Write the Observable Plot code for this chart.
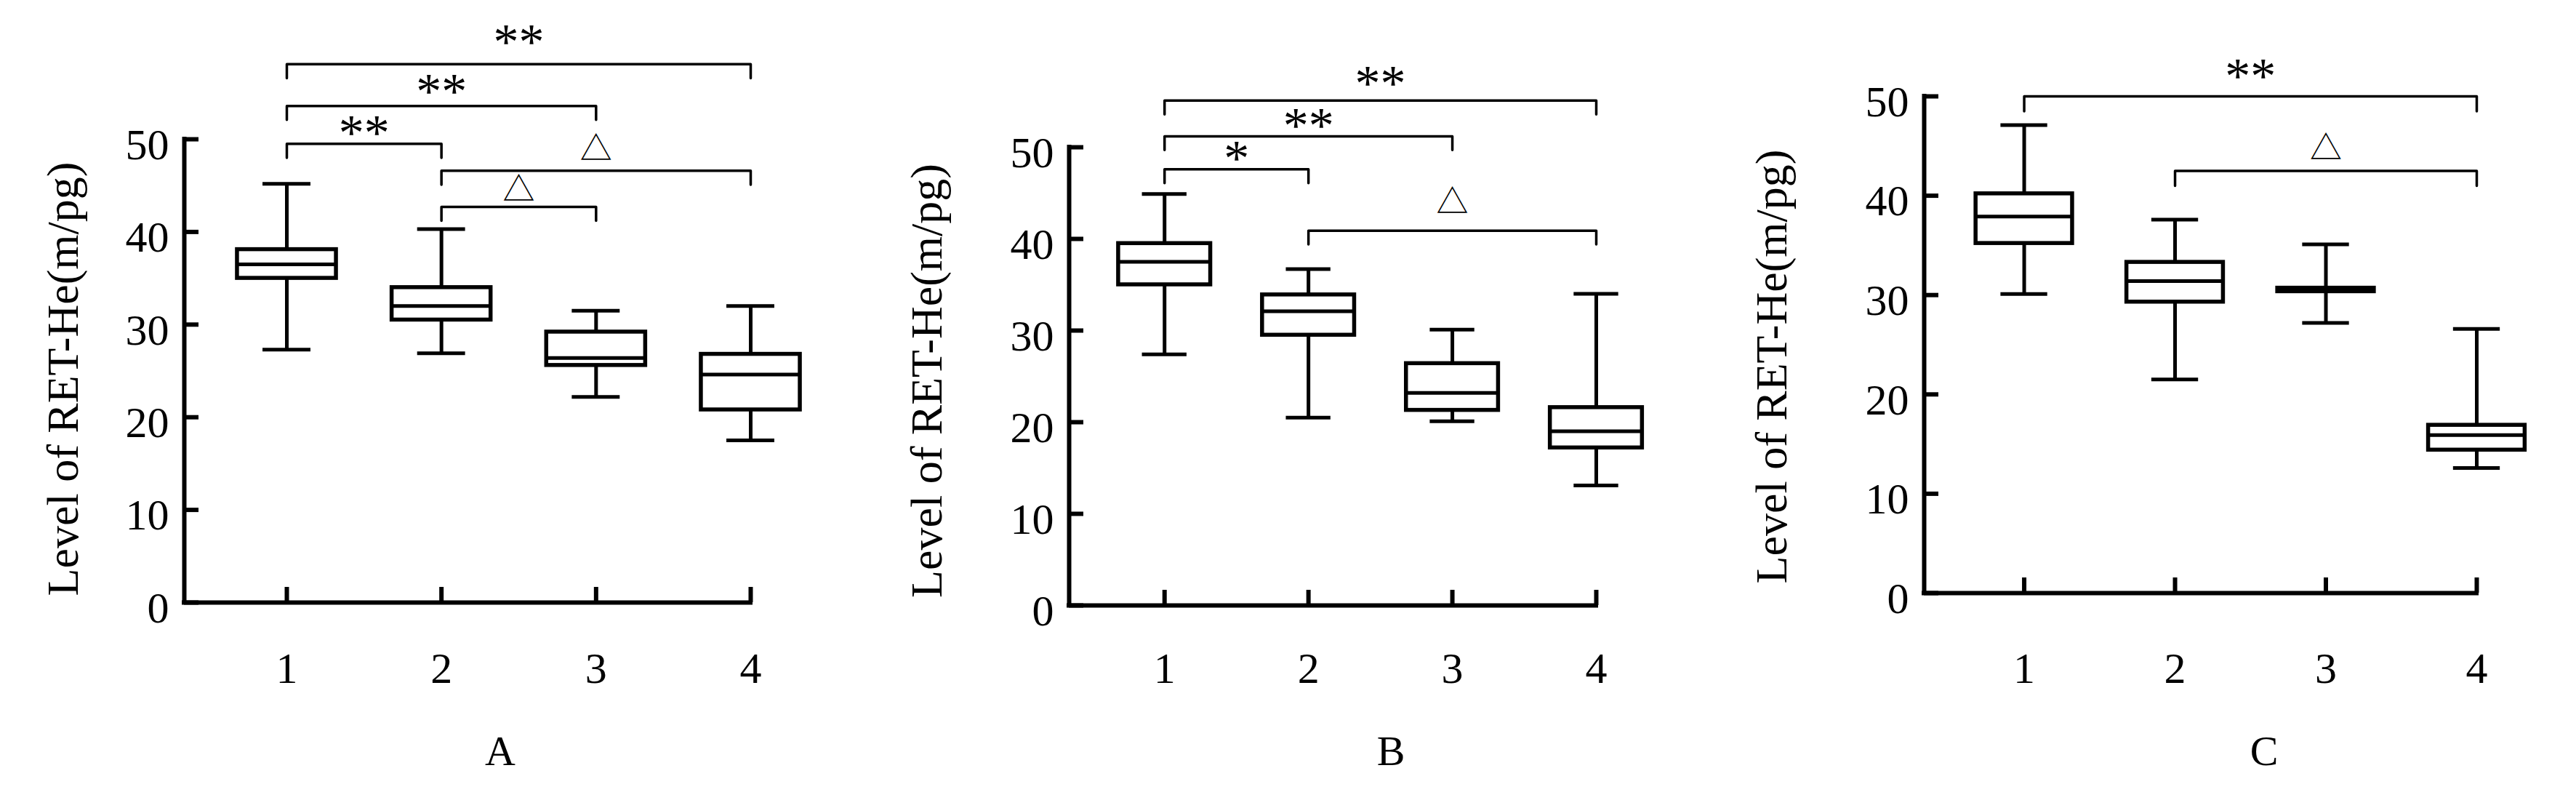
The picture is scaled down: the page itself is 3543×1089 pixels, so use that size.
<!DOCTYPE html>
<html><head><meta charset="utf-8">
<script src="https://cdn.jsdelivr.net/npm/d3@7"></script>
<script src="https://cdn.jsdelivr.net/npm/@observablehq/plot@0.6"></script>
<style>
html,body{margin:0;padding:0;background:#fff;}
#wrap{position:relative;width:3543px;height:1089px;overflow:hidden;background:#fff;}
.panel{position:absolute;top:0;}
.cap{position:absolute;font-family:"Liberation Serif","Times New Roman",serif;font-size:58px;color:#000;transform:translate(-50%,-50%);line-height:1;}
</style></head><body><div id="wrap"></div>
<script>
// categories
const groups = [1, 2, 3, 4];
const yTicks = [0, 10, 20, 30, 40, 50];
const yTitle = "Level of RET-He(m/pg)";
const panelLetters = ["A", "B", "C"];

// Panel A box statistics
const aLow  = [27.3, 26.9, 22.2, 17.5];
const aQ1   = [35.0, 30.5, 25.6, 20.8];
const aMed  = [36.5, 32.0, 26.4, 24.6];
const aQ3   = [38.1, 34.0, 29.2, 26.8];
const aHigh = [45.2, 40.3, 31.5, 32.0];
// Panel A significance brackets
const aBrFrom  = [1, 1, 1, 2, 2];
const aBrTo    = [4, 3, 2, 4, 3];
const aBrLevel = [58.1, 53.6, 49.5, 46.6, 42.7];
const aBrText  = ["**", "**", "**", "△", "△"];
const aBrTextY = [61.1, 55.8, 51.3, 48.9, 44.5];

// Panel B box statistics
const bLow  = [27.4, 20.5, 20.1, 13.1];
const bQ1   = [35.0, 29.5, 21.3, 17.2];
const bMed  = [37.5, 32.1, 23.2, 19.0];
const bQ3   = [39.5, 33.9, 26.4, 21.6];
const bHigh = [44.9, 36.7, 30.1, 34.0];
const bBrFrom  = [1, 1, 1, 2];
const bBrTo    = [4, 3, 2, 4];
const bBrLevel = [55.1, 51.2, 47.6, 40.9];
const bBrText  = ["**", "**", "*", "△"];
const bBrTextY = [57.6, 53.0, 49.4, 43.9];

// Panel C box statistics
const cLow  = [30.1, 21.5, 27.2, 12.6];
const cQ1   = [35.2, 29.3, 30.35, 14.4];
const cMed  = [37.9, 31.4, 30.5, 15.9];
const cQ3   = [40.2, 33.3, 30.7, 16.9];
const cHigh = [47.1, 37.6, 35.1, 26.6];
const cBrFrom  = [1, 2];
const cBrTo    = [4, 4];
const cBrLevel = [50.0, 42.5];
const cBrText  = ["**", "△"];
const cBrTextY = [52.6, 44.7];

const SERIF = "'Liberation Serif','Times New Roman',serif";
const X0 = 0.337, HALF = 0.32, CAP = 0.155, LEG = 1.5;

function panel(s, L) {
  const rows = groups.map((g, i) => ({g, low: s.low[i], q1: s.q1[i], med: s.med[i], q3: s.q3[i], high: s.high[i]}));
  const br = s.from.map((f, i) => ({i, from: f, to: s.to[i], level: s.level[i], text: s.text[i], ty: s.ty[i]}));
  const brPts = br.flatMap(b => [
    {i: b.i, x: b.from, y: b.level - LEG}, {i: b.i, x: b.from, y: b.level},
    {i: b.i, x: b.to, y: b.level}, {i: b.i, x: b.to, y: b.level - LEG}]);
  const stars = br.filter(b => b.text !== "△");
  const tris = br.filter(b => b.text === "△");
  const chart = Plot.plot({
    width: 1181, height: 1089,
    marginLeft: L.ml, marginRight: L.mr, marginTop: L.mt, marginBottom: L.mb,
    x: {type: "linear", domain: [X0, 4]},
    y: {type: "linear", domain: [0, 50]},
    style: {fontFamily: SERIF, fontSize: "60px", color: "#000", background: "transparent", overflow: "visible"},
    marks: [
      Plot.ruleX(rows, {x: "g", y1: "low", y2: "high", stroke: "#000", strokeWidth: 5}),
      Plot.rect(rows, {x1: d => d.g - HALF, x2: d => d.g + HALF, y1: "q1", y2: "q3", fill: "#fff", stroke: "#000", strokeWidth: 5.5}),
      Plot.ruleY(rows, {y: "med", x1: d => d.g - HALF, x2: d => d.g + HALF, stroke: "#000", strokeWidth: 5}),
      Plot.ruleY(rows, {y: "low", x1: d => d.g - CAP, x2: d => d.g + CAP, stroke: "#000", strokeWidth: 5}),
      Plot.ruleY(rows, {y: "high", x1: d => d.g - CAP, x2: d => d.g + CAP, stroke: "#000", strokeWidth: 5}),
      Plot.ruleX([X0], {y1: 0, y2: 50, stroke: "#000", strokeWidth: 6, strokeLinecap: "square"}),
      Plot.ruleY([0], {x1: X0, x2: 4, stroke: "#000", strokeWidth: 6, strokeLinecap: "square"}),
      Plot.axisY({ticks: yTicks, tickSize: 0, tickPadding: 21, dy: 8, fontSize: 60, fontFamily: SERIF, label: null}),
      Plot.axisY({ticks: yTicks, tickSize: 20, dx: 20, fill: "none", strokeWidth: 6, label: null}),
      Plot.axisX({ticks: groups, tickSize: 0, tickPadding: L.xpad, fontSize: 60, fontFamily: SERIF, label: null, tickFormat: d => String(d)}),
      Plot.axisX({ticks: groups, tickSize: 21, dy: -21, fill: "none", strokeWidth: 6, label: null}),
      Plot.line(brPts, {x: "x", y: "y", z: "i", stroke: "#000", strokeWidth: 3.5}),
      Plot.text(stars, {x: d => (d.from + d.to) / 2, y: "ty", text: "text", fontSize: 70, dy: 9, fill: "#000"}),
      Plot.text(tris, {x: d => (d.from + d.to) / 2, y: "ty", text: "text", fontSize: 44, fontFamily: "'Noto Sans CJK SC','DejaVu Sans',sans-serif", fill: "#000"}),
      Plot.text([yTitle], {frameAnchor: "left", textAnchor: "middle", rotate: -90, dx: L.tdx, dy: L.tdy, fontSize: 62, fill: "#000", ariaLabel: "ytitle"})
    ]
  });
  // enforce tick-label fonts
  chart.querySelectorAll('g[aria-label="y-axis tick label"]').forEach(g => {
    g.setAttribute("font-size", 60); g.setAttribute("font-family", SERIF); g.setAttribute("fill", "#000");
  });
  chart.querySelectorAll('g[aria-label="x-axis tick label"]').forEach(g => {
    g.setAttribute("font-size", 60); g.setAttribute("font-family", SERIF); g.setAttribute("fill", "#000");
  });
  // italic "m" in the unit
  const t = chart.querySelector('g[aria-label="ytitle"] text');
  if (t) {
    const txt = t.textContent;
    const k = txt.indexOf("(m/") + 1;
    t.textContent = "";
    const ns = "http://www.w3.org/2000/svg";
    const parts = [[txt.slice(0, k), null], [txt.slice(k, k + 1), "italic"], [txt.slice(k + 1), null]];
    for (const [str, st] of parts) {
      const sp = document.createElementNS(ns, "tspan");
      sp.textContent = str;
      if (st) sp.setAttribute("font-style", st);
      t.appendChild(sp);
    }
  }
  const div = document.createElement("div");
  div.className = "panel";
  div.style.left = L.left + "px";
  div.appendChild(chart);
  document.getElementById("wrap").appendChild(div);
  const cap = document.createElement("div");
  cap.className = "cap";
  cap.textContent = L.letter;
  cap.style.left = L.capX + "px";
  cap.style.top = L.capY + "px";
  document.getElementById("wrap").appendChild(cap);
}

panel({low: aLow, q1: aQ1, med: aMed, q3: aQ3, high: aHigh, from: aBrFrom, to: aBrTo, level: aBrLevel, text: aBrText, ty: aBrTextY},
      {left: 0, ml: 253, mr: 149, mt: 191, mb: 261, xpad: 68, tdx: -166, tdy: 11, letter: panelLetters[0], capX: 688, capY: 1033});
panel({low: bLow, q1: bQ1, med: bMed, q3: bQ3, high: bHigh, from: bBrFrom, to: bBrTo, level: bBrLevel, text: bBrText, ty: bBrTextY},
      {left: 1181, ml: 289, mr: 167, mt: 202, mb: 257, xpad: 64, tdx: -195, tdy: 6, letter: panelLetters[1], capX: 1913, capY: 1033});
panel({low: cLow, q1: cQ1, med: cMed, q3: cQ3, high: cHigh, from: cBrFrom, to: cBrTo, level: cBrLevel, text: cBrText, ty: cBrTextY},
      {left: 2362, ml: 284, mr: 137, mt: 132, mb: 274, xpad: 81, tdx: -209, tdy: 30, letter: panelLetters[2], capX: 3114, capY: 1033});
</script></body></html>
